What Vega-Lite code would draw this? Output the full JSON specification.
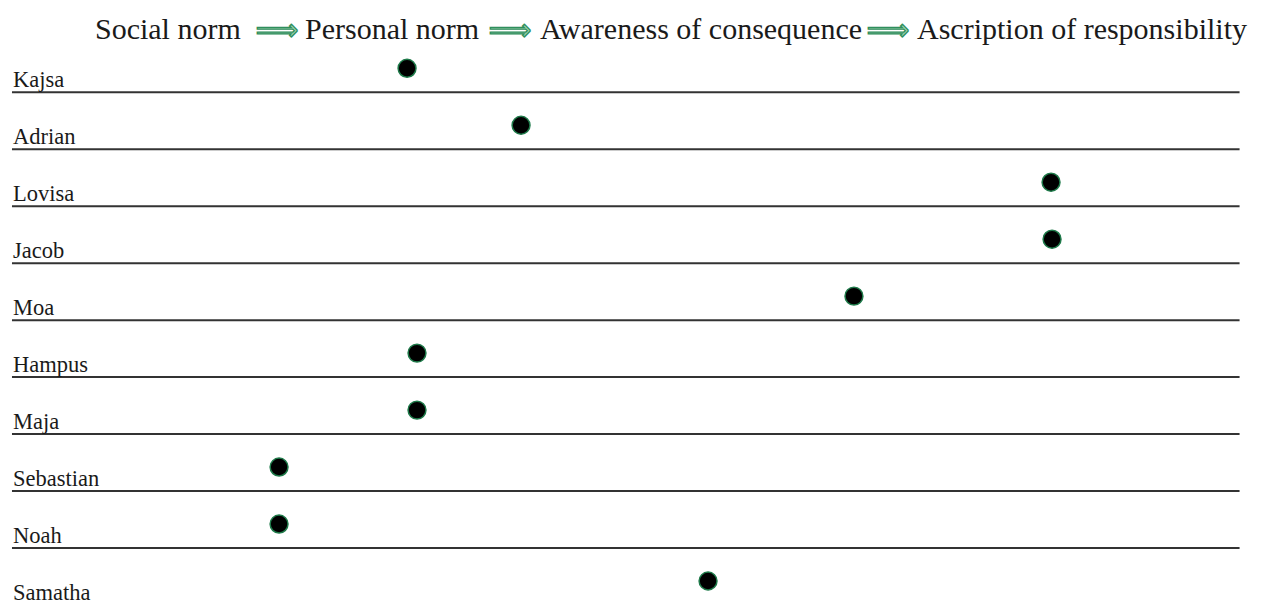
{
  "$schema": "https://vega.github.io/schema/vega-lite/v6.json",
  "width": 1261,
  "height": 605,
  "autosize": {"type": "fit", "contains": "padding"},
  "padding": 0,
  "background": "white",
  "config": {"view": {"stroke": null}},
  "datasets": {
    "people": [
      {"name": "Kajsa", "row": 0, "pos": 32.28},
      {"name": "Adrian", "row": 1, "pos": 41.32},
      {"name": "Lovisa", "row": 2, "pos": 83.35},
      {"name": "Jacob", "row": 3, "pos": 83.43},
      {"name": "Moa", "row": 4, "pos": 67.72},
      {"name": "Hampus", "row": 5, "pos": 33.07},
      {"name": "Maja", "row": 6, "pos": 33.07},
      {"name": "Sebastian", "row": 7, "pos": 22.13},
      {"name": "Noah", "row": 8, "pos": 22.13},
      {"name": "Samatha", "row": 9, "pos": 56.15}
    ],
    "stages": [
      {"label": "Social norm", "pos": 7.53},
      {"label": "Personal norm", "pos": 24.19},
      {"label": "Awareness of consequence", "pos": 42.82},
      {"label": "Ascription of responsibility", "pos": 72.72}
    ],
    "arrows": [
      {"label": "⟹", "pos": 21.97},
      {"label": "⟹", "pos": 40.44},
      {"label": "⟹", "pos": 70.42}
    ]
  },
  "layer": [
    {
      "data": {"name": "people"},
      "transform": [{"filter": "datum.row < 9"}],
      "mark": {"type": "rule", "color": "#333333", "strokeWidth": 2},
      "encoding": {
        "y": {"field": "row", "type": "quantitative", "scale": {"domain": [-1.62, 8.93], "reverse": true, "nice": false, "zero": false}, "axis": null},
        "x": {"datum": 0.95, "type": "quantitative", "scale": {"domain": [0, 100], "nice": false, "zero": false}, "axis": null},
        "x2": {"datum": 98.3}
      }
    },
    {
      "data": {"name": "people"},
      "mark": {"type": "text", "font": "Liberation Serif", "fontSize": 22.5, "align": "left", "baseline": "alphabetic", "dy": -5, "color": "#1a1a1a"},
      "encoding": {
        "y": {"field": "row", "type": "quantitative"},
        "x": {"datum": 1.03, "type": "quantitative"},
        "text": {"field": "name"}
      }
    },
    {
      "data": {"name": "people"},
      "mark": {"type": "point", "filled": true, "size": 320, "opacity": 1, "fill": "black", "stroke": "#1f7a4a", "strokeWidth": 1.5, "strokeOpacity": 1, "fillOpacity": 1, "yOffset": -24},
      "encoding": {
        "y": {"field": "row", "type": "quantitative"},
        "x": {"field": "pos", "type": "quantitative"}
      }
    },
    {
      "data": {"name": "stages"},
      "mark": {"type": "text", "font": "Liberation Serif", "fontSize": 30, "align": "left", "baseline": "alphabetic", "color": "#1a1a1a"},
      "encoding": {
        "y": {"datum": -0.927, "type": "quantitative"},
        "x": {"field": "pos", "type": "quantitative"},
        "text": {"field": "label"}
      }
    },
    {
      "data": {"name": "arrows"},
      "mark": {"type": "text", "font": "DejaVu Sans", "fontSize": 30, "align": "center", "baseline": "middle", "fill": "#9fd3b0", "stroke": "#2f8f5c", "strokeWidth": 1.3},
      "encoding": {
        "y": {"datum": -1.08, "type": "quantitative"},
        "x": {"field": "pos", "type": "quantitative"},
        "text": {"field": "label"}
      }
    }
  ]
}
